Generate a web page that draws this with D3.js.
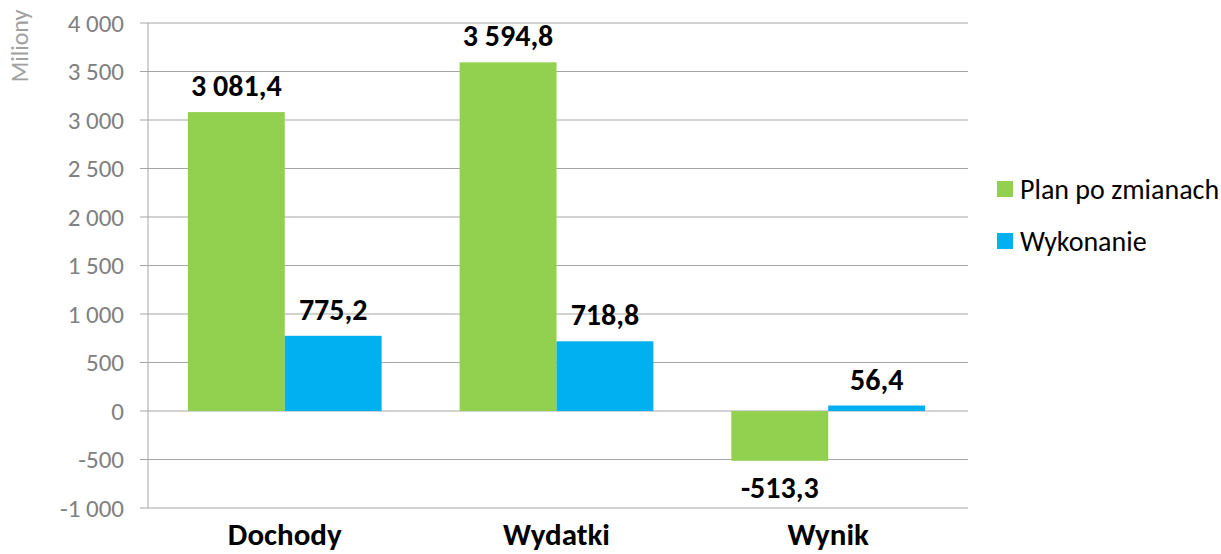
<!DOCTYPE html>
<html>
<head>
<meta charset="utf-8">
<script src="https://cdn.jsdelivr.net/npm/d3@7"></script>
<style>
  body { margin: 0; background: #fff; }
  svg { font-family: Carlito, Calibri, Lato, "Open Sans", sans-serif; }
</style>
</head>
<body>
<div id="chart"></div>
<script>
const categories = ['Dochody', 'Wydatki', 'Wynik'];
const seriesNames = ['Plan po zmianach', 'Wykonanie'];
const planValues = [3081.4, 3594.8, -513.3];
const wykonanieValues = [775.2, 718.8, 56.4];
const yTicks = [-1000, -500, 0, 500, 1000, 1500, 2000, 2500, 3000, 3500, 4000];
const colors = ['#92d050', '#00b0f0'];

const width = 1221, height = 554;
const svg = d3.select('#chart').append('svg')
  .attr('width', width)
  .attr('height', height);

const x0 = d3.scaleBand()
  .domain(categories)
  .range([148.5, 964.5])
  .paddingInner(0.287)
  .paddingOuter(0.145);

const x1 = d3.scaleBand()
  .domain(seriesNames)
  .range([0, x0.bandwidth()]);

const y = d3.scaleLinear()
  .domain([-1000, 4000])
  .range([508, 23]);

// Polish style numbers: space thousands, comma decimal, plain hyphen minus
const fmt = v => (v < 0 ? '-' : '') + d3.format(',')(Math.abs(v)).replace(/,/g, ' ');
const fmtVal = v => (v < 0 ? '-' : '') + d3.format(',.1f')(Math.abs(v)).replace(/,/g, ' ').replace('.', ',');

// gridlines
svg.append('g')
  .selectAll('line')
  .data(yTicks)
  .enter()
  .append('line')
  .attr('x1', 140)
  .attr('x2', 968)
  .attr('y1', d => y(d))
  .attr('y2', d => y(d))
  .attr('stroke', '#a6a6a6')
  .attr('stroke-width', 1);

// y axis line
svg.append('line')
  .attr('x1', 148).attr('x2', 148)
  .attr('y1', y(4000)).attr('y2', y(-1000))
  .attr('stroke', '#a6a6a6');

// tick labels
svg.append('g')
  .selectAll('text')
  .data(yTicks)
  .enter()
  .append('text')
  .attr('x', 124)
  .attr('y', d => y(d))
  .attr('dy', '0.35em')
  .attr('text-anchor', 'end')
  .attr('fill', '#808080')
  .style('font-size', '25px')
  .text(d => fmt(d));

svg.append('text')
  .attr('transform', 'translate(28,46) rotate(-90)')
  .attr('text-anchor', 'middle')
  .attr('fill', '#a0a0a0')
  .style('font-size', '24px')
  .text('Miliony');

// bars
const rows = categories.map((c, i) => ({
  cat: c,
  vals: [planValues[i], wykonanieValues[i]]
}));

const groups = svg.append('g')
  .selectAll('g')
  .data(rows)
  .enter()
  .append('g')
  .attr('transform', d => `translate(${x0(d.cat)},0)`);

groups.selectAll('rect')
  .data(d => d.vals.map((v, j) => ({ v, s: seriesNames[j], j })))
  .enter()
  .append('rect')
  .attr('x', d => x1(d.s))
  .attr('width', x1.bandwidth())
  .attr('y', d => y(Math.max(0, d.v)))
  .attr('height', d => Math.abs(y(d.v) - y(0)))
  .attr('fill', d => colors[d.j]);

groups.selectAll('text.val')
  .data(d => d.vals.map((v, j) => ({ v, s: seriesNames[j], j })))
  .enter()
  .append('text')
  .attr('class', 'val')
  .attr('x', d => x1(d.s) + x1.bandwidth() / 2)
  .attr('y', d => d.v >= 0 ? y(d.v) - 16 : y(d.v) + 37)
  .attr('text-anchor', 'middle')
  .style('font-size', '30px')
  .style('font-weight', 'bold')
  .attr('fill', '#000')
  .text(d => fmtVal(d.v));

// category labels
svg.append('g')
  .selectAll('text')
  .data(categories)
  .enter()
  .append('text')
  .attr('x', d => x0(d) + x0.bandwidth() / 2)
  .attr('y', 545)
  .attr('text-anchor', 'middle')
  .style('font-size', '31px')
  .style('font-weight', 'bold')
  .attr('fill', '#000')
  .text(d => d);

// legend
const legend = svg.append('g')
  .attr('transform', 'translate(997,181)');

seriesNames.forEach((name, i) => {
  const row = legend.append('g')
    .attr('transform', `translate(0, ${i * 52})`);
  row.append('rect')
    .attr('width', 16)
    .attr('height', 16)
    .attr('fill', colors[i]);
  row.append('text')
    .attr('x', 23)
    .attr('y', 8)
    .attr('dy', '0.35em')
    .style('font-size', '28px')
    .attr('fill', '#000')
    .text(name);
});
</script>
</body>
</html>
